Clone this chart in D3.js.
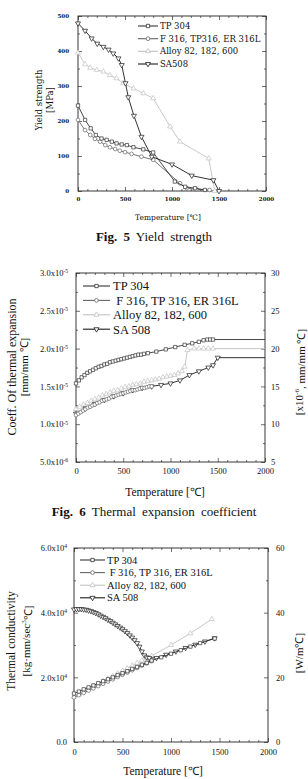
<!DOCTYPE html>
<html><head><meta charset="utf-8">
<script src="https://cdn.jsdelivr.net/npm/d3@7/dist/d3.min.js"></script>
<style>body{margin:0;background:#fff}svg{display:block}</style>
</head><body>
<svg id="fig" width="308" height="779"></svg>
<script>
// series names / legend
var names=['TP 304','F 316, TP316, ER 316L','Alloy 82, 182, 600','SA508']
var names2=['TP 304',' F 316, TP 316, ER 316L','Alloy 82, 182, 600','SA 508']

// Fig 5 yield strength [MPa]
var ysTP304T=[0,75,135,190,250,305,360,410,465,520,590,695,800,1030,1140,1245,1350]
var ysTP304=[244,203,179,160,150,146,141,136,133,131,125,119,110,27,12,8,3]
var ysF316T=[0,75,130,180,235,290,340,395,445,500,570,675,800,1085,1155,1260,1400]
var ysF316=[203,174,160,149,141,131,125,120,115,111,106,98,89,22,8,5,3]
var ysAlloyT=[0,75,130,200,270,340,410,480,590,695,800,980,1085,1390,1455]
var ysAlloy=[395,362,352,346,341,331,322,308,293,279,265,184,141,93,0]
var ysSA508T=[0,75,145,205,270,325,375,430,465,505,535,595,675,785,1000,1210,1440,1500]
var ysSA508=[479,458,436,421,412,404,393,379,360,308,268,215,155,98,76,44,31,0]

// Fig 6 thermal expansion [x1e-5 mm/mm C]
var ceTP304T=[0,30,60,90,120,150,180,210,240,270,300,330,360,390,420,450,480,510,540,570,600,630,660,690,720,760,850,950,1050,1150,1230,1300,1350,1390,1420,1450,2000]
var ceTP304=[1.54,1.58,1.62,1.65,1.68,1.70,1.72,1.74,1.76,1.77,1.79,1.80,1.82,1.83,1.84,1.85,1.86,1.87,1.88,1.89,1.90,1.91,1.92,1.92,1.93,1.94,1.96,1.99,2.02,2.05,2.07,2.09,2.11,2.12,2.12,2.12,2.12]
var ceF316T=[0,25,50,75,100,125,150,175,200,225,250,275,300,325,350,375,400,425,450,475,500,525,550,575,600,625,650,675,700,725,750,775,800]
var ceF316=[1.12,1.14,1.16,1.18,1.20,1.22,1.23,1.25,1.26,1.28,1.29,1.31,1.32,1.33,1.34,1.36,1.37,1.38,1.39,1.40,1.41,1.42,1.43,1.44,1.45,1.45,1.46,1.47,1.48,1.48,1.49,1.50,1.50]
var ceAlloyT=[0,40,80,120,160,200,240,280,320,360,400,440,480,520,560,600,640,680,720,760,800,840,880,920,960,1000,1040,1080,1120,1150,1180,1250,1300,1350,1400,1450,2000]
var ceAlloy=[1.20,1.23,1.26,1.28,1.31,1.33,1.35,1.38,1.40,1.42,1.44,1.45,1.47,1.49,1.50,1.52,1.53,1.54,1.56,1.57,1.58,1.59,1.60,1.62,1.63,1.64,1.65,1.67,1.70,1.76,1.98,2.00,2.00,2.00,2.00,2.00,2.00]
var ceSA508T=[0,100,200,300,400,500,600,700,800,900,1000,1100,1200,1300,1400,1450,1500,2000]
var ceSA508=[1.14,1.21,1.27,1.32,1.37,1.41,1.45,1.48,1.50,1.52,1.54,1.58,1.65,1.70,1.75,1.78,1.88,1.88]

// Fig 7 thermal conductivity [x1e4 kg mm/sec3 C]
var tcTP304T=[0,50,100,150,200,250,300,350,400,450,500,550,600,650,700,750,800,900,1000,1100,1200,1300,1450]
var tcTP304=[1.50,1.56,1.63,1.69,1.75,1.82,1.88,1.94,2.00,2.07,2.13,2.19,2.26,2.32,2.39,2.45,2.52,2.62,2.73,2.84,2.95,3.06,3.20]
var tcF316T=[0,50,100,150,200,250,300,350,400,450,500,550,600,650,700,750,800]
var tcF316=[1.38,1.45,1.52,1.59,1.66,1.73,1.80,1.87,1.94,2.01,2.08,2.15,2.22,2.29,2.36,2.43,2.50]
var tcAlloyT=[0,50,100,150,200,250,300,350,400,450,500,550,600,650,700,750,800,1000,1200,1420]
var tcAlloy=[1.40,1.48,1.56,1.64,1.72,1.80,1.88,1.96,2.04,2.12,2.20,2.28,2.36,2.44,2.52,2.59,2.66,3.00,3.36,3.80]
var tcSA508T=[0,25,50,75,100,125,150,175,200,225,250,275,300,325,350,375,400,425,450,475,500,525,550,575,600,625,650,675,700,725,750,775,850,950,1050,1150,1250,1350,1450]
var tcSA508=[4.10,4.11,4.11,4.11,4.10,4.09,4.07,4.05,4.02,3.99,3.95,3.91,3.87,3.83,3.78,3.74,3.69,3.64,3.59,3.54,3.49,3.43,3.37,3.30,3.23,3.15,3.06,2.95,2.80,2.68,2.62,2.60,2.60,2.70,2.80,2.91,3.01,3.11,3.21]

var tempMajor=[0,500,1000,1500,2000]
var tempMinor=[100,200,300,400,600,700,800,900,1100,1200,1300,1400,1600,1700,1800,1900]

var ceLeftLabels={0.5:['5.0x10','-6'],1:['1.0x10','-5'],1.5:['1.5x10','-5'],2:['2.0x10','-5'],2.5:['2.5x10','-5'],3:['3.0x10','-5']}
var tcLeftLabels={0:['0.0',''],2:['2.0x10','4'],4:['4.0x10','4'],6:['6.0x10','4']}

var styles=[
  {sym:'sq',col:'#333'},
  {sym:'ci',col:'#666'},
  {sym:'up',col:'#c2c2c2'},
  {sym:'dn',col:'#1c1c1c'}
]

var svg=d3.select('#fig')
var SERIF='"Liberation Serif","Times New Roman",serif'
var DJ='"DejaVu Serif",serif'

function marker(kind,size){
  var t=kind=='sq'?d3.symbolSquare:kind=='ci'?d3.symbolCircle:d3.symbolTriangle
  return d3.symbol().type(t).size(size)()
}
function putMarker(g,kind,cx,cy,col,size,sw){
  g.append('path').attr('d',marker(kind,size))
   .attr('transform','translate('+cx+','+cy+')'+(kind=='dn'?' rotate(180)':''))
   .attr('fill','#fff').attr('stroke',col).attr('stroke-width',sw)
}

function panel(p){
  var x=d3.scaleLinear().domain([0,2000]).range([p.left,p.right])
  var y=d3.scaleLinear().domain(p.ydom).range([p.bottom,p.top])
  var y2=d3.scaleLinear().domain(p.y2dom||p.ydom).range([p.bottom,p.top])
  var g=svg.append('g')
  var ax=g.append('g')
  function sty(sel){
    sel.select('.domain').remove()
    sel.selectAll('line').attr('stroke','#333').attr('stroke-width',0.7)
    sel.selectAll('text').attr('font-family',p.font).attr('font-size',p.tfs).attr('fill','#111').attr('font-weight',p.tfw||'normal')
  }
  ax.append('g').attr('transform','translate(0,'+p.bottom+')')
    .call(d3.axisBottom(x).tickValues(tempMajor).tickSize(-4).tickPadding(p.xpad).tickFormat(d3.format('d'))).call(sty)
  ax.append('g').attr('transform','translate(0,'+p.bottom+')')
    .call(d3.axisBottom(x).tickValues(tempMinor).tickSize(-2).tickFormat('')).call(sty)
  ax.append('g').attr('transform','translate(0,'+p.top+')')
    .call(d3.axisTop(x).tickValues(tempMajor).tickSize(-4).tickFormat('')).call(sty)
  ax.append('g').attr('transform','translate(0,'+p.top+')')
    .call(d3.axisTop(x).tickValues(tempMinor).tickSize(-2).tickFormat('')).call(sty)
  var la=ax.append('g').attr('transform','translate('+p.left+',0)')
    .call(d3.axisLeft(y).tickValues(p.yticks).tickSize(-4).tickPadding(p.ypad).tickFormat(p.yfmt?'':d3.format('d'))).call(sty)
  if(p.yfmt){
    la.selectAll('.tick text').each(function(d){
      var f=p.yfmt[d], t=d3.select(this).text(f[0])
      if(f[1]) t.append('tspan').attr('dy','-0.5em').attr('font-size','0.65em').text(f[1])
    })
  }
  ax.append('g').attr('transform','translate('+p.left+',0)')
    .call(d3.axisLeft(y).tickValues(p.yminor).tickSize(-2).tickFormat('')).call(sty)
  ax.append('g').attr('transform','translate('+p.right+',0)')
    .call(d3.axisRight(y2).tickValues(p.y2ticks).tickSize(-4).tickPadding(p.rpad||3).tickFormat(p.y2lab?d3.format('d'):'')).call(sty)
  ax.append('g').attr('transform','translate('+p.right+',0)')
    .call(d3.axisRight(y2).tickValues(p.y2minor).tickSize(-2).tickFormat('')).call(sty)
  g.append('rect').attr('x',p.left).attr('y',p.top).attr('width',p.right-p.left).attr('height',p.bottom-p.top)
    .attr('fill','none').attr('stroke','#222').attr('stroke-width',0.9)

  var line=d3.line().x(function(d){return x(d[0])}).y(function(d){return y(d[1])})
  p.order.forEach(function(i){
    var s=p.series[i], st=styles[i]
    var pts=d3.zip(s[0],s[1])
    g.append('path').attr('d',line(pts)).attr('fill','none').attr('stroke',st.col).attr('stroke-width',p.lw)
    pts.forEach(function(d){ if(d[0]<2000) putMarker(g,st.sym,x(d[0]),y(d[1]),st.col,p.ms,0.7) })
  })
  // legend
  p.legNames.forEach(function(n,i){
    var st=styles[i], ly=p.legY[i]
    g.append('line').attr('x1',p.legX[0]).attr('x2',p.legX[1]).attr('y1',ly).attr('y2',ly).attr('stroke',st.col).attr('stroke-width',1.1)
    putMarker(g,st.sym,(p.legX[0]+p.legX[1])/2,ly,st.col,p.ms,0.8)
    g.append('text').attr('x',p.legX[2]).attr('y',ly).attr('dy','0.35em').attr('font-family',p.font)
      .attr('font-size',p.lfs).attr('fill','#111').attr('xml:space','preserve').text(n)
  })
}

function txt(x,y,s,fs,font,rot,anchor){
  var t=svg.append('text').attr('x',x).attr('y',y).attr('font-family',font).attr('font-size',fs)
    .attr('fill','#111').attr('text-anchor',anchor||'middle')
  if(rot) t.attr('transform','rotate(-90,'+x+','+y+')')
  return t
}

// ---------- Fig 5
panel({left:78,right:266,top:16,bottom:191,ydom:[0,500],yticks:[0,100,200,300,400,500],yminor:[50,150,250,350,450],
  y2ticks:[0,100,200,300,400,500],y2minor:[50,150,250,350,450],
  font:DJ,tfs:5.5,tfw:'bold',xpad:6,ypad:9,lw:0.9,ms:11,lfs:8.5,
  series:[[ysTP304T,ysTP304],[ysF316T,ysF316],[ysAlloyT,ysAlloy],[ysSA508T,ysSA508]],order:[2,1,0,3],
  legNames:names,legX:[138,158,160],legY:[26,38.7,51.3,64]})
txt(42,100,'',8.5,DJ,true).text('Yield strength')
txt(53,100,'',8.5,DJ,true).text('[MPa]')
txt(168,220,'',7.5,DJ).text('Temperature [℃]')
var c5=txt(154,241,'',13,SERIF).attr('word-spacing','3px')
c5.append('tspan').attr('font-weight','bold').text('Fig. 5')
c5.append('tspan').text(' Yield strength')

// ---------- Fig 6
panel({left:76,right:265,top:273,bottom:462,ydom:[0.5,3],yticks:[0.5,1,1.5,2,2.5,3],yminor:[0.75,1.25,1.75,2.25,2.75],
  yfmt:ceLeftLabels,y2dom:[5,30],y2ticks:[5,10,15,20,25,30],y2minor:[7.5,12.5,17.5,22.5,27.5],y2lab:true,rpad:6,
  font:SERIF,tfs:8.5,xpad:6,ypad:8,lw:0.9,ms:11,lfs:12.5,
  series:[[ceTP304T,ceTP304],[ceF316T,ceF316],[ceAlloyT,ceAlloy],[ceSA508T,ceSA508]],order:[2,3,1,0],
  legNames:names2,legX:[83,110,113],legY:[286,300.4,314.8,329.2]})
var l6=txt(16,367,'',12,SERIF,true)
l6.text('Coeff. Of thermal expansion')
txt(28,367,'',11,SERIF,true).text('[mm/mm ℃]')
var r6=txt(303,372,'',11,SERIF,true)
r6.text('[x10').append('tspan').attr('dy','-0.5em').attr('font-size','0.65em').text('-6')
r6.append('tspan').attr('dy','0.5em').text(', mm/mm ℃]')
txt(165,496,'',11.5,SERIF).text('Temperature [℃]')
var c6=txt(154,516,'',13,SERIF).attr('word-spacing','3px')
c6.append('tspan').attr('font-weight','bold').text('Fig. 6')
c6.append('tspan').text(' Thermal expansion coefficient')

// ---------- Fig 7
panel({left:74,right:268,top:548,bottom:742,ydom:[0,6],yticks:[0,2,4,6],yminor:[1,3,5],
  yfmt:tcLeftLabels,y2dom:[0,60],y2ticks:[0,20,40,60],y2minor:[10,30,50],y2lab:true,rpad:8,
  font:SERIF,tfs:8.5,xpad:7,ypad:7,lw:0.9,ms:11,lfs:10.5,
  series:[[tcTP304T,tcTP304],[tcF316T,tcF316],[tcAlloyT,tcAlloy],[tcSA508T,tcSA508]],order:[2,1,3,0],
  legNames:names2,legX:[80,105,107],legY:[560,572.6,585.2,597.8]})
txt(15,641,'',11.5,SERIF,true).text('Thermal conductivity')
var l7=txt(30,641,'',11,SERIF,true)
l7.text('[kg·mm/sec').append('tspan').attr('dy','-0.5em').attr('font-size','0.65em').text('3')
l7.append('tspan').attr('dy','0.5em').text('℃]')
txt(303,653,'',11,SERIF,true).text('[W/m℃]')
txt(163,775,'',11.5,SERIF).text('Temperature [℃]')
</script>
</body></html>
